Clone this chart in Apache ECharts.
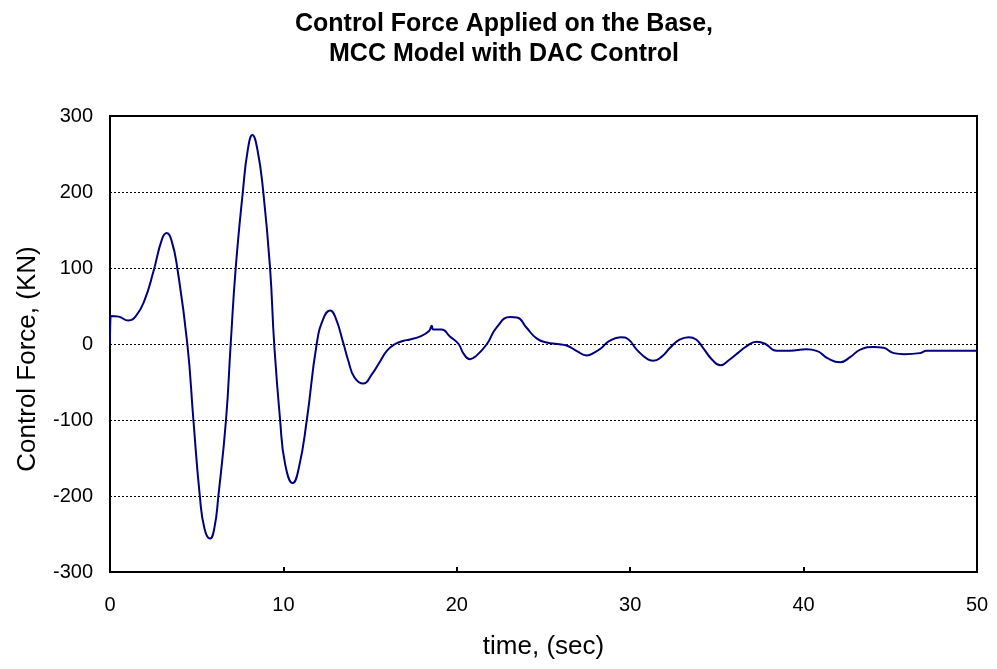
<!DOCTYPE html>
<html>
<head>
<meta charset="utf-8">
<script src="https://cdn.jsdelivr.net/npm/echarts@6/dist/echarts.min.js"></script>
<style>
  html, body { margin: 0; padding: 0; background: #fff; }
  #chart { width: 997px; height: 669px; }
</style>
</head>
<body>
<div id="chart"></div>
<script>
// values
const timeSec = [0, 0.05, 0.5, 1.05, 1.5, 2.0, 2.5, 3.0, 3.27, 3.55, 3.88, 4.46, 4.81, 5.18, 5.45, 5.77, 6.02, 6.25, 6.69, 6.96,
  7.25, 7.66, 7.95, 8.21, 8.5, 8.84, 9.23, 9.47, 9.81, 10.1, 10.54, 10.9, 11.35, 11.92, 12.3, 12.69, 13.0, 13.47, 13.73, 14.1,
  14.61, 15.1, 15.6, 16.0, 16.44, 16.9, 17.3, 17.9, 18.4, 18.55, 18.65, 19.13, 19.6, 20.1, 20.4, 20.76, 21.1, 21.74, 22.3, 23.08,
  23.47, 24.0, 24.62, 25.2, 25.8, 26.34, 26.9, 27.5, 27.95, 28.3, 28.8, 29.45, 29.9, 30.4, 31.0, 31.32, 31.8, 32.3, 32.8, 33.37,
  33.8, 34.2, 34.7, 35.2, 35.7, 36.2, 36.7, 37.3, 37.8, 38.45, 39.2, 40.15, 40.75, 41.4, 42.1, 42.7, 43.3, 44.05, 44.6, 45.2,
  45.8, 46.7, 47.1, 48.5, 50]
const forceKN = [0, 37, 36, 31, 37, 58, 95, 138, 146, 136, 100, 0, -100, -200, -243, -256, -242, -200, -100, 0,
  100, 200, 256, 275, 256, 200, 100, 0, -100, -158, -183, -162, -100, 0, 33, 44, 35, 0, -21, -44,
  -52, -40, -22, -8, 0, 4, 6, 10, 17, 24, 19, 19, 10, 0, -13, -20, -16, 0, 22, 35.5,
  35, 22, 7, 2, 0, -2, -9, -15, -11, -6, 4, 9, 6, -8, -20, -22, -17, -5, 5, 9,
  6, -5, -20, -28, -21, -12, -3, 3, 0, -9, -9, -7, -9, -19, -24, -17, -7, -4, -5, -12,
  -13.5, -12, -9, -9, -9]
const xTicks = [0, 10, 20, 30, 40, 50]
const yTicks = [-300, -200, -100, 0, 100, 200, 300]

const font = 'Liberation Sans, Arial, sans-serif'
const chart = echarts.init(document.getElementById('chart'))

var option = {
  animation: false,
  title: {
    text: 'Control Force Applied on the Base,\nMCC Model with DAC Control',
    left: 499,
    textAlign: 'center',
    top: 4,
    textStyle: { fontFamily: font, fontSize: 25, fontWeight: 'bold', color: '#000', lineHeight: 30 }
  },
  grid: {
    left: 110, right: 20, top: 116, bottom: 97,
    show: true, borderColor: '#000', borderWidth: 2, backgroundColor: '#fff'
  },
  xAxis: {
    type: 'value',
    min: xTicks[0], max: xTicks[xTicks.length - 1], interval: 10,
    name: 'time, (sec)', nameLocation: 'middle', nameGap: 62,
    nameTextStyle: { fontFamily: font, fontSize: 26, color: '#000' },
    axisLine: { onZero: false, lineStyle: { color: '#000', width: 2 } },
    axisTick: { inside: true, length: 5, lineStyle: { color: '#000', width: 2 } },
    axisLabel: { fontFamily: font, fontSize: 20, color: '#000', margin: 23 },
    splitLine: { show: false }
  },
  yAxis: {
    type: 'value',
    min: yTicks[0], max: yTicks[yTicks.length - 1], interval: 100,
    name: 'Control Force, (KN)', nameLocation: 'middle', nameGap: 69,
    nameTextStyle: { fontFamily: font, fontSize: 26, color: '#000', padding: [0, 0, 0, -30] },
    axisLine: { onZero: false, lineStyle: { color: '#000', width: 2 } },
    axisTick: { show: false },
    axisLabel: { fontFamily: font, fontSize: 20, color: '#000', margin: 17 },
    splitLine: { lineStyle: { color: '#000', width: 1, type: [2, 2] } }
  },
  series: [{
    type: 'line',
    data: timeSec.map((t, i) => [t, forceKN[i]]),
    showSymbol: false,
    smooth: 0.5,
    lineStyle: { color: '#000080', width: 2 },
    itemStyle: { color: '#000080' }
  }]
}
chart.setOption(option)
</script>
</body>
</html>
